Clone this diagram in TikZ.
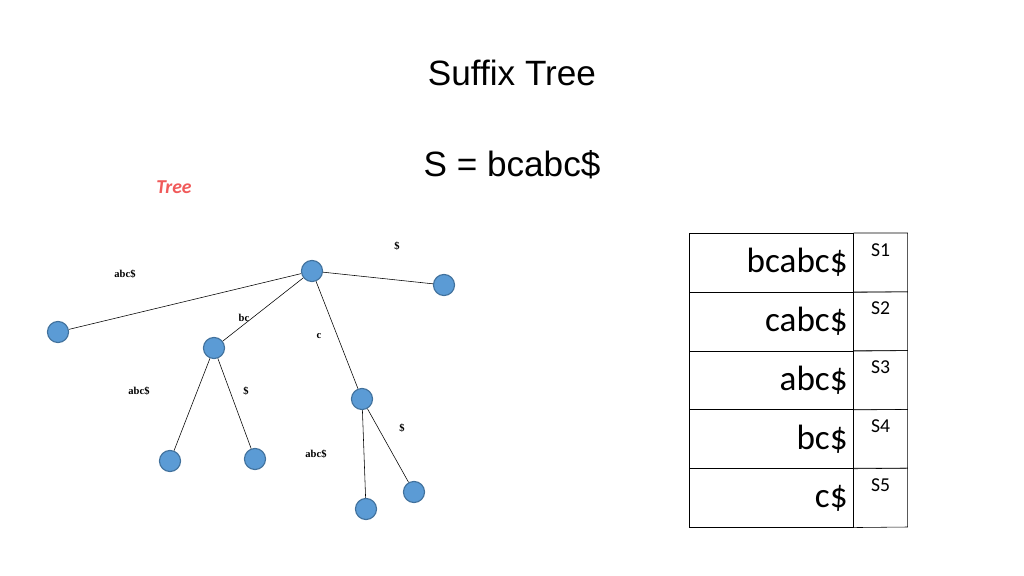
\documentclass[tikz,border=0pt]{standalone}
\usepackage{fontspec}
\setmainfont{Liberation Serif}
\newfontfamily\calibri{Carlito}
\newfontfamily\arial{Liberation Sans}
\definecolor{nodeblue}{HTML}{5B9BD5}
\definecolor{nodeedge}{HTML}{41719C}
\definecolor{treered}{HTML}{F05A5A}
\tikzset{
  vert/.style={circle, fill=nodeblue, draw=nodeedge, thick, minimum size=15pt, inner sep=0pt},
  elabel/.style={font=\fontsize{7.5}{8}\selectfont\bfseries},
  cellbox/.style={draw, minimum width=164*0.025cm, minimum height=58.8*0.025cm, inner sep=0pt}
}
\begin{document}
\begin{tikzpicture}[x=0.025cm, y=-0.025cm]
    \useasboundingbox (0,0) rectangle (1024,576);
    \node (title) at (512,73) {\arial\fontsize{25}{28}\selectfont Suffix Tree};
    \node (str) at (512,165) {\arial\fontsize{25}{28}\selectfont S = bcabc\$};
    \node[text=treered] (tree) at (174,187) {\calibri\fontsize{14}{16}\selectfont\bfseries\itshape Tree};
    % vertices
    \node[vert] (root) at (312,271) {};
    \node[vert] (r1) at (444,285) {};
    \node[vert] (r2) at (58,332) {};
    \node[vert] (nbc) at (214,348) {};
    \node[vert] (nc) at (362,399) {};
    \node[vert] (bc1) at (170,461) {};
    \node[vert] (bc2) at (255,459) {};
    \node[vert] (c1) at (366,509) {};
    \node[vert] (c2) at (414,492) {};
    % edges
    \draw (root) -- (r1);
    \draw (root) -- (r2);
    \draw (root) -- (nbc);
    \draw (root) -- (nc);
    \draw (nbc) -- (bc1);
    \draw (nbc) -- (bc2);
    \draw (nc) -- (c1);
    \draw (nc) -- (c2);
    % edge labels
    \node[elabel] (l1) at (397,246) {\$};
    \node[elabel] (l2) at (125,274) {abc\$};
    \node[elabel] (l3) at (244,318) {bc};
    \node[elabel] (l4) at (319,336) {c};
    \node[elabel] (l5) at (139,391) {abc\$};
    \node[elabel] (l6) at (246,391) {\$};
    \node[elabel] (l7) at (402,428) {\$};
    \node[elabel] (l8) at (316,454) {abc\$};
    % table
    \foreach \t [count=\i] in {bcabc\$, cabc\$, abc\$, bc\$, c\$} {
      \node[cellbox, anchor=north west] (cell\i) at (689,233+58.8*\i-58.8) {};
      \draw (cell\i.north east) -- ++(54,0) -- ++(0,58.8) -- (cell\i.south east);
      \node[anchor=east, inner sep=4pt] (txt\i) at (cell\i.east) {\calibri\fontsize{25}{28}\selectfont \t};
      \node[anchor=north, inner sep=0pt] (s\i) at ([xshift=27*0.025cm, yshift=-10*0.025cm]cell\i.north east) {\calibri\fontsize{14}{16}\selectfont S\i};
    }
\end{tikzpicture}
\end{document}
